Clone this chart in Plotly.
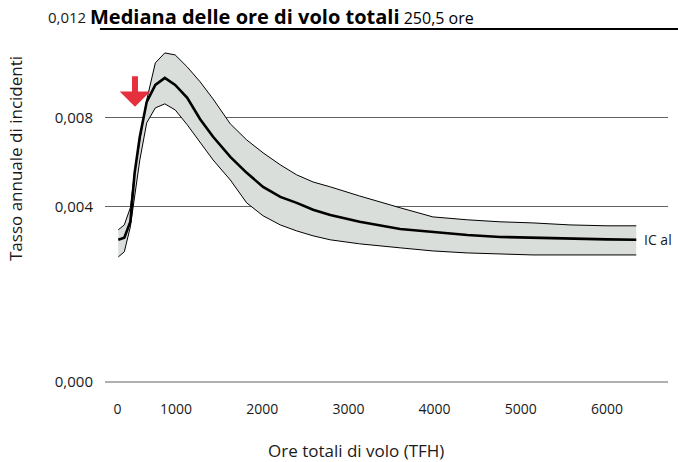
import plotly.graph_objects as go

# ---- data ----
tfh = [330, 400, 470, 520, 580, 660, 760, 870, 990, 1130, 1280, 1430, 1630, 1820,
       2010, 2210, 2400, 2590, 2790, 3130, 3600, 3980, 4380, 4760, 5140, 5570, 6000, 6340]
rate_median = [0.00252, 0.00261, 0.00333, 0.00553, 0.00715, 0.00872, 0.00948, 0.00980,
               0.00948, 0.00890, 0.00794, 0.00715, 0.00625, 0.00553, 0.00490, 0.00445,
               0.00418, 0.00387, 0.00364, 0.00333, 0.00301, 0.00288, 0.00274, 0.00265,
               0.00261, 0.00256, 0.00254, 0.00252]
rate_upper = [0.00297, 0.00319, 0.00396, 0.00557, 0.00701, 0.00881, 0.01047, 0.01092,
              0.01083, 0.01029, 0.00962, 0.00885, 0.00773, 0.00701, 0.00643, 0.00589,
              0.00544, 0.00512, 0.00490, 0.00449, 0.00396, 0.00355, 0.00342, 0.00333,
              0.00328, 0.00319, 0.00315, 0.00315]
rate_lower = [0.00175, 0.00198, 0.00310, 0.00454, 0.00611, 0.00778, 0.00845, 0.00863,
              0.00836, 0.00769, 0.00688, 0.00611, 0.00521, 0.00418, 0.00360, 0.00319,
              0.00292, 0.00270, 0.00252, 0.00234, 0.00216, 0.00202, 0.00193, 0.00189,
              0.00184, 0.00184, 0.00184, 0.00184]

x_tick_vals = [320, 1000, 2000, 3000, 4000, 5000, 6000]
x_tick_text = ["0", "1000", "2000", "3000", "4000", "5000", "6000"]
y_tick_vals = [-0.00387, 0.004, 0.008]          # bottom gridline is the axis baseline
y_tick_text = ["0,000", "0,004", "0,008"]
y_top_val = 0.012
y_top_text = "0,012"

arrow_x = 524
arrow_y = 0.0085

title_bold = "Mediana delle ore di volo totali"
title_rest = " 250,5 ore"
x_title = "Ore totali di volo (TFH)"
y_title = "Tasso annuale di incidenti"
ci_label = "IC al"

FONT = "Open Sans"
GRID = "#626262"

fig = go.Figure()
fig.add_trace(go.Scatter(x=tfh, y=rate_upper, mode="lines",
                         line=dict(color="black", width=1), hoverinfo="skip",
                         showlegend=False))
fig.add_trace(go.Scatter(x=tfh, y=rate_lower, mode="lines", fill="tonexty",
                         fillcolor="#dadedb", line=dict(color="black", width=1),
                         hoverinfo="skip", showlegend=False))
fig.add_trace(go.Scatter(x=tfh, y=rate_median, mode="lines",
                         line=dict(color="black", width=2.6), showlegend=False))

fig.update_layout(
    width=678, height=462,
    margin=dict(l=105, r=10, t=26, b=79),
    paper_bgcolor="white", plot_bgcolor="white",
    font=dict(family=FONT, size=14, color="#1a1a1a"),
    xaxis=dict(range=[176, 6708], tickvals=x_tick_vals, ticktext=x_tick_text,
               showgrid=False, zeroline=False, showline=False, ticks="",
               ticklabelstandoff=16, tickfont=dict(size=14)),
    yaxis=dict(range=[-0.003915, 0.01213], tickvals=y_tick_vals, ticktext=y_tick_text,
               showgrid=True, gridcolor=GRID, gridwidth=1,
               zeroline=False, showline=False, ticks="",
               ticklabelstandoff=11, tickfont=dict(size=15)),
)

# baseline (0,000) line
fig.add_shape(type="line", xref="paper", yref="y", layer="below",
              x0=0, x1=1, y0=y_tick_vals[0], y1=y_tick_vals[0],
              line=dict(color=GRID, width=1.2))
# title underline at the 0.012 level
fig.add_shape(type="line", xref="paper", yref="y",
              x0=-0.009, x1=1.018, y0=y_top_val, y1=y_top_val,
              line=dict(color="black", width=2))

fig.add_annotation(xref="paper", yref="y", x=-0.031, y=y_top_val, yshift=0,
                   xanchor="right", yanchor="bottom", showarrow=False,
                   text=y_top_text, font=dict(size=15))
fig.add_annotation(xref="paper", yref="y", x=-0.031, y=y_top_val, yshift=-3,
                   xanchor="left", yanchor="bottom", showarrow=False,
                   text="<b>" + title_bold + "</b>"
                        + "<span style='font-size:16px'>" + title_rest + "</span>",
                   font=dict(size=20, color="black"))

fig.add_annotation(xref="paper", yref="paper", x=0.953, y=0.403, xanchor="left",
                   yanchor="middle", showarrow=False, text=ci_label,
                   font=dict(size=14))

fig.add_annotation(xref="paper", yref="paper", x=0.446, y=0, yshift=-67,
                   xanchor="center", yanchor="middle", showarrow=False,
                   text=x_title, font=dict(size=17))
fig.add_annotation(xref="paper", yref="paper", x=-0.16, y=0.63,
                   xanchor="center", yanchor="middle", textangle=-90,
                   showarrow=False, text=y_title, font=dict(size=17))

fig.add_annotation(x=arrow_x, y=arrow_y, ax=0, ay=-32, showarrow=True,
                   arrowhead=1, arrowsize=0.85, arrowwidth=6, arrowcolor="#e5303e",
                   text="")

fig.write_html("out.html", config={"displayModeBar": False},
               post_script="document.body.style.margin='0';")
